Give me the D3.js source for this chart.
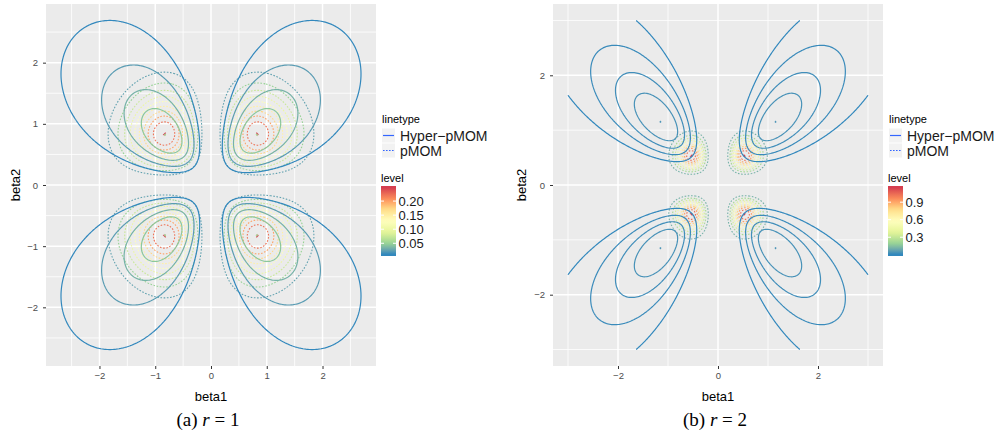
<!DOCTYPE html>
<html>
<head>
<meta charset="utf-8">
<script src="https://cdn.jsdelivr.net/npm/d3@7"></script>
<style>
  body { margin: 0; background: #fff; }
  svg { display: block; }
  text { font-family: "Liberation Sans", Arial, Helvetica, sans-serif; }
</style>
</head>
<body>
<svg id="chart" width="997" height="436"></svg>
<script>
// ---- data ----
const panelTags = ['(a)', '(b)'];
const rValues = [1, 2];
const pmomTau = [0.348, 0.072];          // pMOM prior scale
const hyperShape = [0.5, 0.5];           // inverse-gamma a for Hyper-pMOM
const hyperRate = [0.5, 0.5];            // inverse-gamma b for Hyper-pMOM
const pmomLevelFrac = [0.1, 0.2, 0.3, 0.4, 0.5, 0.6, 0.7, 0.8, 0.9, 1.0];
const hyperLevelFrac = [0.2, 0.4, 0.6, 0.8, 1.0];
const axisTicks = [[-2, -1, 0, 1, 2], [-2, 0, 2]];
const levelBreaks = [[0.05, 0.10, 0.15, 0.20], [0.3, 0.6, 0.9]];
const levelLabels = [['0.05', '0.10', '0.15', '0.20'], ['0.3', '0.6', '0.9']];
const linetypeNames = ['Hyper\u2212pMOM', 'pMOM'];
const gridLimits = [-3, 3];
const spectral = ['#3288BD', '#99D594', '#E6F598', '#FFFFBF', '#FEE08B', '#FC8D59', '#D53E4F'];

// ---- layout ----
const panels = [
  { left: 46, top: 4, width: 330, height: 362 },
  { left: 553, top: 4, width: 330, height: 362 }
];
const N = 241;
const lo = gridLimits[0];
const step = (gridLimits[1] - gridLimits[0]) / (N - 1);
const peakShrink = 0.9997; // top level sits on the grid maximum, drawn as a dot

function gamma(z) {
  if (z < 0.5) return Math.PI / (Math.sin(Math.PI * z) * gamma(1 - z));
  z -= 1;
  const c = [0.99999999999980993, 676.5203681218851, -1259.1392167224028, 771.32342877765313,
    -176.61502916214059, 12.507343278686905, -0.13857109526572012, 9.9843695780195716e-6, 1.5056327351493116e-7];
  let x = c[0];
  for (let i = 1; i < 9; i++) x += c[i] / (z + i);
  const t = z + 7.5;
  return Math.sqrt(2 * Math.PI) * Math.pow(t, z + 0.5) * Math.exp(-t) * x;
}

function oddFactorial(k) {
  let p = 1;
  for (let i = k; i > 1; i -= 2) p *= i;
  return p;
}

function pmomDensity(r, tau) {
  const c = oddFactorial(2 * r - 1) * Math.pow(tau, r) * Math.sqrt(2 * Math.PI * tau);
  const f = b => Math.pow(b * b, r) * Math.exp(-b * b / (2 * tau)) / c;
  return (x, y) => f(x) * f(y);
}

function hyperDensity(r, a, b) {
  const c = oddFactorial(2 * r - 1);
  const k = Math.pow(b, a) / gamma(a) * gamma(a + 2 * r + 1) / (c * c * 2 * Math.PI);
  return (x, y) => k * Math.pow(x * x * y * y, r) / Math.pow(b + (x * x + y * y) / 2, a + 2 * r + 1);
}

function gridValues(fn) {
  const v = new Float64Array(N * N);
  for (let j = 0; j < N; j++) {
    for (let i = 0; i < N; i++) v[j * N + i] = fn(lo + i * step, lo + j * step);
  }
  return v;
}

// contour polygons -> open/closed lines (drop the pieces that run along the grid edge)
function contourLines(values, levels, max) {
  const thresholds = levels.map(v => Math.min(v, max * peakShrink));
  const geos = d3.contours().size([N, N]).thresholds(thresholds)(values);
  const onEdge = p => p[0] === 0 || p[0] === N || p[1] === 0 || p[1] === N;
  const toData = p => [lo + (p[0] - 0.5) * step, lo + (p[1] - 0.5) * step];
  const lines = [];
  geos.forEach((geo, li) => {
    geo.coordinates.forEach(poly => poly.forEach(ring => {
      const pts = ring.slice(0, -1);
      const k = pts.findIndex(onEdge);
      if (k < 0) {
        lines.push({ level: levels[li], pts: ring.map(toData), peak: li === levels.length - 1 });
        return;
      }
      const rot = pts.slice(k).concat(pts.slice(0, k));
      let cur = [];
      rot.forEach(p => {
        if (onEdge(p)) {
          if (cur.length > 1) lines.push({ level: levels[li], pts: cur.map(toData) });
          cur = [];
        } else cur.push(p);
      });
      if (cur.length > 1) lines.push({ level: levels[li], pts: cur.map(toData) });
    }));
  });
  return lines;
}

const svg = d3.select('#chart');
const defs = svg.append('defs');

panels.forEach((pn, k) => {
  const r = rValues[k];
  const pm = gridValues(pmomDensity(r, pmomTau[k]));
  const hy = gridValues(hyperDensity(r, hyperShape[k], hyperRate[k]));
  const pmMax = d3.max(pm), hyMax = d3.max(hy);
  const pmLines = contourLines(pm, pmomLevelFrac.map(f => f * pmMax), pmMax);
  const hyLines = contourLines(hy, hyperLevelFrac.map(f => f * hyMax), hyMax);

  const allPts = pmLines.concat(hyLines).flatMap(l => l.pts);
  const xe = d3.extent(allPts, p => p[0]);
  const ye = d3.extent(allPts, p => p[1]);
  const xpad = (xe[1] - xe[0]) * 0.05, ypad = (ye[1] - ye[0]) * 0.05;

  const x = d3.scaleLinear().domain([xe[0] - xpad, xe[1] + xpad]).range([pn.left, pn.left + pn.width]);
  const y = d3.scaleLinear().domain([ye[0] - ypad, ye[1] + ypad]).range([pn.top + pn.height, pn.top]);

  const levels = pmLines.concat(hyLines).map(l => l.level);
  const lmin = d3.min(levels), lmax = d3.max(levels);
  const color = d3.scaleLinear()
    .domain(spectral.map((c, i) => lmin + i * (lmax - lmin) / (spectral.length - 1)))
    .range(spectral)
    .interpolate(d3.interpolateLab);

  const g = svg.append('g');

  // panel background and grid
  g.append('rect')
    .attr('x', pn.left).attr('y', pn.top)
    .attr('width', pn.width).attr('height', pn.height)
    .attr('fill', '#EBEBEB');

  const majors = axisTicks[k];
  const gap = majors[1] - majors[0];
  const minors = [majors[0] - gap / 2].concat(majors.map(m => m + gap / 2));

  const xdom = x.domain(), ydom = y.domain();
  g.selectAll('.vminor').data(minors.filter(m => m > xdom[0] && m < xdom[1])).enter()
    .append('line')
    .attr('x1', d => x(d)).attr('x2', d => x(d))
    .attr('y1', pn.top).attr('y2', pn.top + pn.height)
    .attr('stroke', '#fff').attr('stroke-width', 0.8);
  g.selectAll('.hminor').data(minors.filter(m => m > ydom[0] && m < ydom[1])).enter()
    .append('line')
    .attr('y1', d => y(d)).attr('y2', d => y(d))
    .attr('x1', pn.left).attr('x2', pn.left + pn.width)
    .attr('stroke', '#fff').attr('stroke-width', 0.8);
  g.selectAll('.vmajor').data(majors).enter()
    .append('line')
    .attr('x1', d => x(d)).attr('x2', d => x(d))
    .attr('y1', pn.top).attr('y2', pn.top + pn.height)
    .attr('stroke', '#fff').attr('stroke-width', 1.5);
  g.selectAll('.hmajor').data(majors).enter()
    .append('line')
    .attr('y1', d => y(d)).attr('y2', d => y(d))
    .attr('x1', pn.left).attr('x2', pn.left + pn.width)
    .attr('stroke', '#fff').attr('stroke-width', 1.5);

  // contours
  const line = d3.line().x(d => x(d[0])).y(d => y(d[1]));
  g.append('g').selectAll('path').data(pmLines).enter()
    .append('path')
    .attr('d', d => line(d.pts))
    .attr('fill', 'none')
    .attr('stroke', d => color(d.level))
    .attr('stroke-width', d => d.peak ? 1.4 : 1.1)
    .attr('stroke-dasharray', d => d.peak ? null : '1.6,1.6')
    .attr('stroke-linecap', d => d.peak ? 'round' : 'butt');
  g.append('g').selectAll('path').data(hyLines).enter()
    .append('path')
    .attr('d', d => line(d.pts))
    .attr('fill', 'none')
    .attr('stroke', d => color(d.level))
    .attr('stroke-width', 1.2)
    .attr('stroke-linecap', d => d.peak ? 'round' : 'butt');

  // axes
  const fmt = d3.format('d');
  const ax = g.append('g')
    .attr('transform', `translate(0,${pn.top + pn.height})`)
    .call(d3.axisBottom(x).tickValues(majors).tickFormat(fmt).tickSize(3).tickPadding(3));
  const ay = g.append('g')
    .attr('transform', `translate(${pn.left},0)`)
    .call(d3.axisLeft(y).tickValues(majors).tickFormat(fmt).tickSize(3).tickPadding(5));
  [ax, ay].forEach(a => {
    a.select('.domain').remove();
    a.selectAll('.tick line').attr('stroke', '#333333');
    a.selectAll('.tick text').attr('fill', '#4D4D4D').style('font-size', '9.5px')
      .style('font-family', '"Liberation Sans", Arial, sans-serif');
  });

  g.append('text')
    .attr('x', pn.left + pn.width / 2).attr('y', 401)
    .attr('text-anchor', 'middle').style('font-size', '13px')
    .text('beta1');
  const ylabX = k === 0 ? 19.5 : 526;
  g.append('text')
    .attr('transform', `translate(${ylabX},${pn.top + pn.height / 2}) rotate(-90)`)
    .attr('text-anchor', 'middle').style('font-size', '13px')
    .text('beta2');

  // caption
  const cap = g.append('text')
    .attr('x', pn.left + pn.width / 2 - 3).attr('y', 426)
    .attr('text-anchor', 'middle')
    .style('font-family', '"Liberation Serif", "DejaVu Serif", serif')
    .style('font-size', '19px');
  cap.append('tspan').text(panelTags[k] + ' ');
  cap.append('tspan').style('font-style', 'italic').text('r');
  cap.append('tspan').text(' = ' + rValues[k]);

  // legend: linetype
  const lx = pn.left + pn.width + 6;
  g.append('text').attr('x', lx).attr('y', 122.5).style('font-size', '11px').text('linetype');
  linetypeNames.forEach((name, i) => {
    const ky = 128.5 + i * 15;
    g.append('rect').attr('x', lx).attr('y', ky).attr('width', 13).attr('height', 14)
      .attr('fill', '#F2F2F2');
    g.append('line')
      .attr('x1', lx + 1).attr('x2', lx + 12)
      .attr('y1', ky + 7).attr('y2', ky + 7)
      .attr('stroke', '#3366FF').attr('stroke-width', 1.2)
      .attr('stroke-dasharray', i === 1 ? '1.6,1.4' : null);
    g.append('text').attr('x', lx + 18).attr('y', ky + 12)
      .style('font-size', '14px').attr('fill', '#1A1A1A').text(name);
  });

  // legend: level colourbar
  const bx = pn.left + pn.width + 5, bTop = 186, bH = 70, bW = 15, nbin = 20;
  g.append('text').attr('x', bx).attr('y', 182).style('font-size', '11px').text('level');
  const gid = 'bar' + k;
  const grad = defs.append('linearGradient').attr('id', gid)
    .attr('x1', 0).attr('x2', 0).attr('y1', 1).attr('y2', 0);
  d3.range(nbin).forEach(i => {
    grad.append('stop')
      .attr('offset', (i + 0.5) / nbin)
      .attr('stop-color', color(lmin + i * (lmax - lmin) / (nbin - 1)));
  });
  g.append('rect').attr('x', bx).attr('y', bTop).attr('width', bW).attr('height', bH)
    .attr('fill', `url(#${gid})`);
  const barY = d3.scaleLinear().domain([lmin, lmax])
    .range([bTop + bH - bH * 0.5 / nbin, bTop + bH * 0.5 / nbin]);
  levelBreaks[k].forEach((v, i) => {
    const ty = barY(v);
    g.append('line').attr('x1', bx).attr('x2', bx + 3).attr('y1', ty).attr('y2', ty)
      .attr('stroke', '#fff').attr('stroke-width', 1);
    g.append('line').attr('x1', bx + bW - 3).attr('x2', bx + bW).attr('y1', ty).attr('y2', ty)
      .attr('stroke', '#fff').attr('stroke-width', 1);
    g.append('text').attr('x', bx + bW + 2.5).attr('y', ty)
      .attr('dy', '0.36em').style('font-size', '13px').attr('fill', '#1A1A1A')
      .text(levelLabels[k][i]);
  });
});
</script>
</body>
</html>
